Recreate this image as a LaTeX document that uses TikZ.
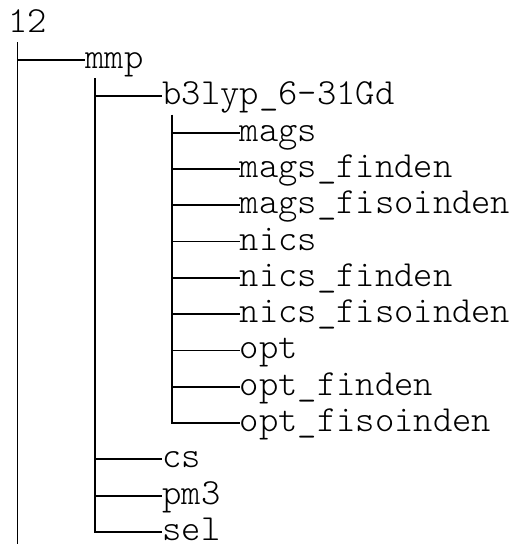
\documentclass[tikz,border=0pt]{standalone}
\usepackage{fontspec}
\usetikzlibrary{positioning}
\newfontfamily\treemono{Latin Modern Mono Light}
\tikzset{
    entry/.style={anchor=west, inner sep=0pt, text height=17pt, text depth=0pt, font=\treemono\fontsize{36.8pt}{36pt}\selectfont},
    branch/.style={line width=1.8pt}
}

\begin{document}
\begin{tikzpicture}[x=1pt, y=1pt, node distance=36.3pt]
    \useasboundingbox (0,0) rectangle (509,-544);

    \node[entry] (root) at (8,-23.7) {12};
    \node[below right=36.3pt and 77.2pt of root.west, entry] (mmp) {mmp};
    \node[below right=36.3pt and 77.2pt of mmp.west, entry] (b3lyp) {b3lyp\_6-31Gd};
    \node[below right=36.3pt and 77.2pt of b3lyp.west, entry] (mags) {mags};
    \node[below=of mags.west, entry] (magsfi) {mags\_finden};
    \node[below=of magsfi.west, entry] (magsfiso) {mags\_fisoinden};
    \node[below=of magsfiso.west, entry] (nics) {nics};
    \node[below=of nics.west, entry] (nicsfi) {nics\_finden};
    \node[below=of nicsfi.west, entry] (nicsfiso) {nics\_fisoinden};
    \node[below=of nicsfiso.west, entry] (opt) {opt};
    \node[below=of opt.west, entry] (optfi) {opt\_finden};
    \node[below=of optfi.west, entry] (optfiso) {opt\_fisoinden};
    \node[entry, yshift=-36.3pt] (cs) at (b3lyp.west |- optfiso.west) {cs};
    \node[below=of cs.west, entry] (pm3) {pm3};
    \node[below=of pm3.west, entry] (sel) {sel};

    \coordinate (root trunk) at (17.5,-42);
    \coordinate (root end) at (17.5,-544);
    \coordinate (mmp trunk) at (94.9,-78.2);
    \coordinate (b3lyp trunk) at (172,-114.5);

    % top level
    \draw[branch] (root trunk) -- (root end);
    \draw[branch] (root trunk |- mmp.west) -- (mmp.west);

    % mmp
    \draw[branch] (mmp trunk) |- (sel.west);
    \draw[branch] (mmp trunk |- b3lyp.west) -- (b3lyp.west);
    \draw[branch] (mmp trunk |- cs.west) -- (cs.west);
    \draw[branch] (mmp trunk |- pm3.west) -- (pm3.west);

    % b3lyp_6-31Gd
    \draw[branch] (b3lyp trunk) |- (optfiso.west);
    \draw[branch] (b3lyp trunk |- mags.west) -- (mags.west);
    \draw[branch] (b3lyp trunk |- magsfi.west) -- (magsfi.west);
    \draw[branch] (b3lyp trunk |- magsfiso.west) -- (magsfiso.west);
    \draw[branch] (b3lyp trunk |- nics.west) -- (nics.west);
    \draw[branch] (b3lyp trunk |- nicsfi.west) -- (nicsfi.west);
    \draw[branch] (b3lyp trunk |- nicsfiso.west) -- (nicsfiso.west);
    \draw[branch] (b3lyp trunk |- opt.west) -- (opt.west);
    \draw[branch] (b3lyp trunk |- optfi.west) -- (optfi.west);
\end{tikzpicture}
\end{document}
